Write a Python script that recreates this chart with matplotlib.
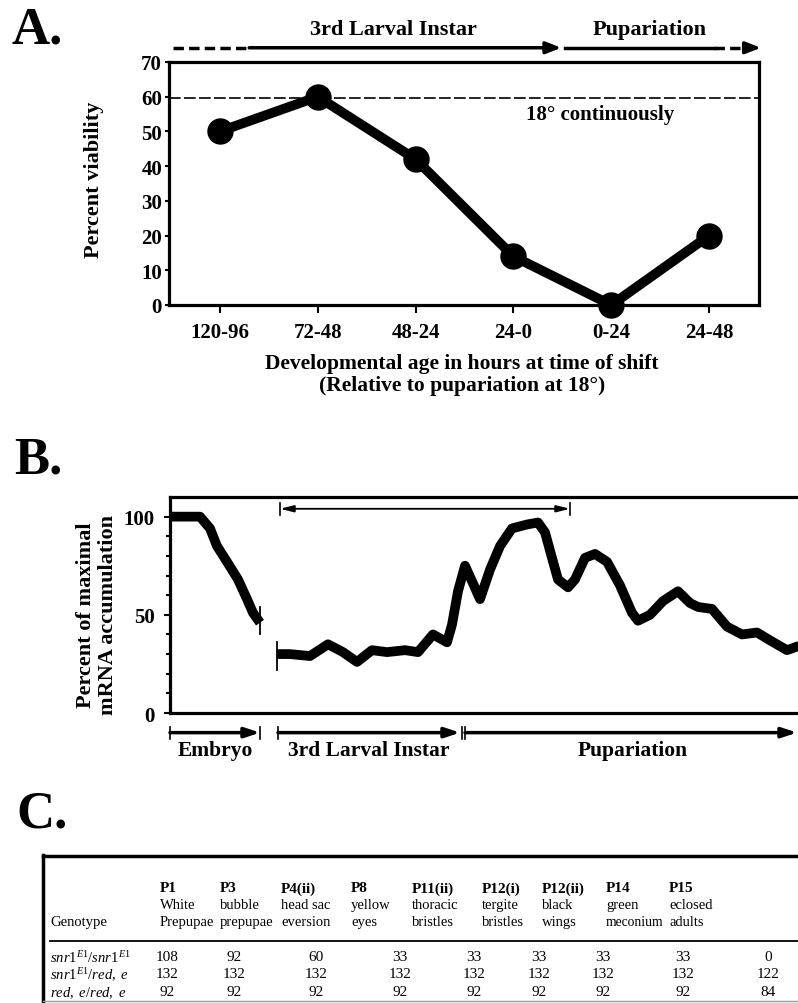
import matplotlib
matplotlib.use("Agg")
import matplotlib.pyplot as plt
from matplotlib.lines import Line2D

plt.rcParams['font.family'] = ['Liberation Serif', 'DejaVu Serif']
plt.rcParams['mathtext.fontset'] = 'custom'
plt.rcParams['mathtext.rm'] = 'Liberation Serif'
plt.rcParams['mathtext.it'] = 'Liberation Serif:italic'

# ---- panel A data
shift_labels = ['120-96', '72-48', '48-24', '24-0', '0-24', '24-48']
viability = [50, 60, 42, 14, 0, 20]
continuous_18 = 59.5

# ---- panel B data (x = time axis in arbitrary units, y = % of max mRNA)
embryo_x = [0, 30, 40, 47, 57, 68, 77, 83, 90]
embryo_y = [100, 100, 94, 85, 77, 68, 58, 51, 46]
later_x = [107, 120, 140, 158, 173, 187, 202, 217, 235, 248, 263, 277, 282, 288,
           295, 303, 310, 320, 330, 342, 357, 368, 375, 382, 388, 398, 405, 415,
           425, 437, 450, 462, 468, 480, 493, 508, 520, 528, 542, 557, 572, 587,
           600, 617, 628, 640]
later_y = [30, 30, 29, 35, 31, 26, 32, 31, 32, 31, 40, 36, 45, 62,
           75, 66, 58, 73, 85, 94, 96, 97, 92, 79, 68, 64, 68, 79,
           81, 77, 65, 51, 47, 50, 57, 62, 56, 54, 53, 44, 40, 41,
           37, 32, 34, 36]
stage_names = ['Embryo', '3rd Larval Instar', 'Pupariation']
stage_start = [0, 108, 295]
stage_end = [90, 290, 627]

# ---- panel C data
genotypes = [r'$\mathit{snr1}^{E1}/\mathit{snr1}^{E1}$',
             r'$\mathit{snr1}^{E1}/\mathit{red,\ e}$',
             r'$\mathit{red,\ e/red,\ e}$']
stages = ['P1', 'P3', 'P4(ii)', 'P8', 'P11(ii)', 'P12(i)', 'P12(ii)', 'P14', 'P15']
stage_desc = [('White', 'Prepupae'), ('bubble', 'prepupae'), ('head sac', 'eversion'),
              ('yellow', 'eyes'), ('thoracic', 'bristles'), ('tergite', 'bristles'),
              ('black', 'wings'), ('green', 'meconium'), ('eclosed', 'adults')]
counts = [[108, 92, 60, 33, 33, 33, 33, 33, 0],
          [132, 132, 132, 132, 132, 132, 132, 132, 122],
          [92, 92, 92, 92, 92, 92, 92, 92, 84]]

W, H = 798, 1004
fig = plt.figure(figsize=(W / 100, H / 100), dpi=100)


def box(l, t, r, b):
    return [l / W, 1 - b / H, (r - l) / W, (b - t) / H]


# pixel canvas for letters, free text and the table
cv = fig.add_axes([0, 0, 1, 1])
cv.set_xlim(0, W)
cv.set_ylim(H, 0)
cv.axis('off')

for lab, x, y in [('A.', 12, 30), ('B.', 14, 461), ('C.', 16, 815)]:
    cv.text(x, y, lab, fontsize=38, fontweight='bold', va='center', ha='left')

# ================= panel A
axA = fig.add_axes(box(169, 63, 759, 306))
xs = list(range(len(viability)))
axA.plot(xs, viability, color='black', lw=7, marker='o', ms=18,
         solid_joinstyle='round', clip_on=False, zorder=5)
axA.axhline(continuous_18, color='black', lw=1.2, ls=(0, (7, 2)))
axA.text(3.89, 55, '18° continuously', fontsize=15, fontweight='bold',
         ha='center', va='center')
axA.set_xlim(-0.52, 5.51)
axA.set_ylim(0, 70)
axA.set_yticks(range(0, 71, 10))
axA.set_xticks(xs)
axA.set_xticklabels(shift_labels)
for s in axA.spines.values():
    s.set_linewidth(2.3)
axA.tick_params(axis='x', length=6, width=1.5, pad=6, labelsize=15)
axA.tick_params(axis='y', length=3, width=1.5, pad=2, labelsize=15)
for t in axA.get_xticklabels() + axA.get_yticklabels():
    t.set_fontweight('bold')

# stage arrows above panel A
ya = 74.1
axA.plot([-0.48, 0.32], [ya, ya], color='black', lw=2.5, ls=(0, (3, 1.5)), clip_on=False)
axA.annotate('', xy=(3.49, ya), xytext=(0.3, ya), annotation_clip=False,
             arrowprops=dict(arrowstyle='-|>,head_length=0.9,head_width=0.35',
                             color='black', lw=2.5, shrinkA=0, shrinkB=0))
axA.plot([3.53, 5.05], [ya, ya], color='black', lw=2.5, clip_on=False)
axA.plot([5.05, 5.4], [ya, ya], color='black', lw=2.5, ls=(0, (3, 1.5)), clip_on=False)
axA.annotate('', xy=(5.53, ya), xytext=(5.38, ya), annotation_clip=False,
             arrowprops=dict(arrowstyle='-|>,head_length=0.9,head_width=0.35',
                             color='black', lw=2.5, shrinkA=0, shrinkB=0))
cv.text(393, 30, '3rd Larval Instar', fontsize=16, fontweight='bold', ha='center', va='center')
cv.text(650, 30, 'Pupariation', fontsize=16, fontweight='bold', ha='center', va='center')

cv.text(94, 180, 'Percent viability', fontsize=16, fontweight='bold', rotation=90,
        ha='center', va='center')
cv.text(462, 375, 'Developmental age in hours at time of shift\n(Relative to pupariation at 18°)',
        fontsize=15.5, fontweight='bold', ha='center', va='center', linespacing=1.1)

# ================= panel B
axB = fig.add_axes(box(170, 498, 805, 714))
axB.plot(embryo_x, embryo_y, color='black', lw=7, solid_joinstyle='round',
         solid_capstyle='butt')
axB.plot(later_x, later_y, color='black', lw=7, solid_joinstyle='round',
         solid_capstyle='butt')
axB.plot([embryo_x[-1], embryo_x[-1]], [54, 40], color='black', lw=1.3)
axB.plot([later_x[0], later_x[0]], [36, 22], color='black', lw=1.3)

# span arrow across the top
yb = 104
axB.annotate('', xy=(110, yb), xytext=(400, yb),
             arrowprops=dict(arrowstyle='<|-|>,head_length=0.8,head_width=0.2',
                             color='black', lw=1.3, shrinkA=0, shrinkB=0))
axB.plot([110, 110], [101, 107], color='black', lw=1.2)
axB.plot([400, 400], [101, 107], color='black', lw=1.2)

axB.set_xlim(0, 635)
axB.set_ylim(0, 110)
axB.set_yticks([0, 50, 100])
axB.set_yticks(range(10, 101, 10), minor=True)
axB.set_xticks([])
axB.spines['right'].set_visible(False)
for k in ['left', 'top', 'bottom']:
    axB.spines[k].set_linewidth(2.3)
axB.tick_params(axis='y', which='major', length=4, width=1.5, pad=7, labelsize=15)
axB.tick_params(axis='y', which='minor', length=3, width=1.5)
for t in axB.get_yticklabels():
    t.set_fontweight('bold')

# stage arrows under panel B
ys = -10
for x0, x1 in zip(stage_start, stage_end):
    axB.annotate('', xy=(x1, ys), xytext=(x0, ys), annotation_clip=False,
                 arrowprops=dict(arrowstyle='-|>,head_length=0.9,head_width=0.3',
                                 color='black', lw=2.5, shrinkA=0, shrinkB=0))
    axB.plot([x0, x0], [ys - 3, ys + 3], color='black', lw=1.2, clip_on=False)
axB.plot([stage_end[0], stage_end[0]], [ys - 3, ys + 3], color='black', lw=1.2, clip_on=False)
axB.plot([292, 292], [ys - 3, ys + 3], color='black', lw=1.2, clip_on=False)
for name, x0, x1 in zip(stage_names, stage_start, stage_end):
    cx = (x0 + x1) / 2 if name != 'Pupariation' else 463
    axB.text(cx, -19, name, fontsize=15.5, fontweight='bold', ha='center', va='center',
             clip_on=False)

cv.text(97, 615, 'Percent of maximal\nmRNA accumulation', fontsize=16, fontweight='bold',
        rotation=90, ha='center', va='center', linespacing=1.1)

# ================= panel C (table)
cv.add_artist(Line2D([43, W], [857, 857], color='black', lw=2.5))
cv.add_artist(Line2D([43, 43], [856, H], color='black', lw=2.5))
cv.add_artist(Line2D([50, W], [942, 942], color='black', lw=1.3))
cv.add_artist(Line2D([43, W], [1002, 1002], color='#999999', lw=1.0))

col_left = [160, 220, 281, 351, 412, 482, 542, 606, 669]
col_mid = [167, 234, 316, 400, 474, 539, 603, 683, 768]
row_y = [958, 975, 993]
fs = 10.5
cv.text(50, 923, 'Genotype', fontsize=fs, ha='left', va='center')
for x, st, (d1, d2) in zip(col_left, stages, stage_desc):
    cv.text(x, 889, st, fontsize=fs + 0.5, fontweight='bold', ha='left', va='center')
    cv.text(x, 906, d1, fontsize=fs, ha='left', va='center')
    cv.text(x, 923, d2, fontsize=fs if d2 != 'meconium' else fs - 0.7, ha='left', va='center')
for y, g, row in zip(row_y, genotypes, counts):
    cv.text(50, y, g, fontsize=fs, ha='left', va='center')
    for x, v in zip(col_mid, row):
        cv.text(x, y, str(v), fontsize=fs + 0.5, ha='center', va='center')

fig.savefig('out.png', dpi=100)
